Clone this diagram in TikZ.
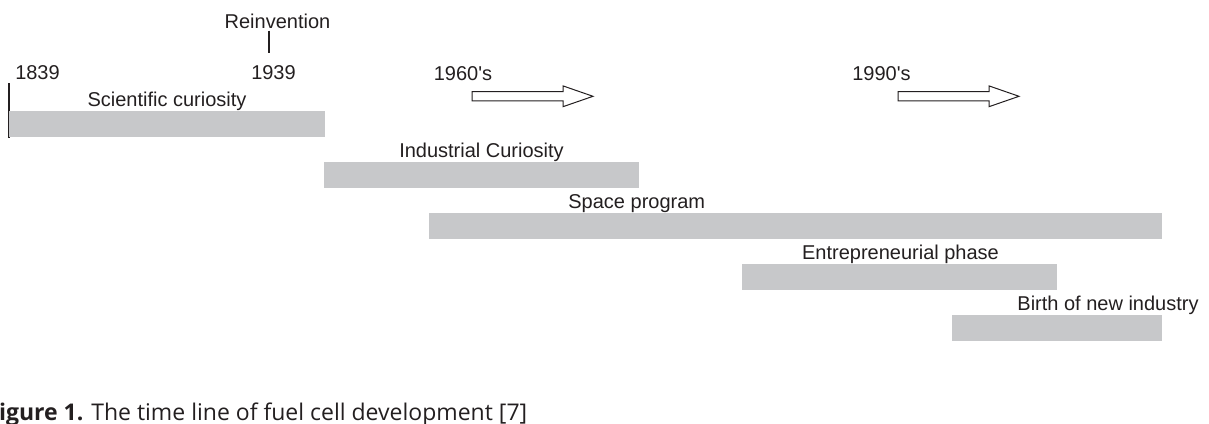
\documentclass[tikz,border=0pt]{standalone}
\usepackage{fontspec}
\setmainfont{Liberation Sans}
\newfontfamily\capfont{Open Sans}
\definecolor{barfill}{RGB}{199,200,202}
\definecolor{ink}{RGB}{35,31,32}

\begin{document}
\begin{tikzpicture}[x=0.5pt,y=-0.5pt,
    lbl/.style={anchor=base,inner sep=1pt,text=ink,font=\fontsize{10}{12}\selectfont},
    bar/.style={fill=barfill}]
    \useasboundingbox (0,0) rectangle (1209,423);

    % dates
    \node[lbl] (y1839) at (37.5,79) {1839};
    \node[lbl] (y1939) at (273.5,79) {1939};
    \node[lbl] (y1960) at (463,80) {1960\textquotesingle s};
    \node[lbl] (y1990) at (881.5,80) {1990\textquotesingle s};
    \node[lbl] (reinv) at (277.5,28) {Reinvention};
    \coordinate (tick) at (269,53);
    \draw[ink, line width=0.6pt] (reinv.south -| tick) -- (tick);

    % start marker
    \coordinate (start) at (9,83);
    \draw[ink, line width=0.7pt] (start) -- (9,138);

    % hollow arrows
    \foreach \s in {472,898}
      \draw[ink, line width=0.5pt] (\s,91.7) -- (\s+91,91.7) -- (\s+91,85.9)
        -- (\s+121,96.3) -- (\s+91,106.7) -- (\s+91,100.9) -- (\s,100.9) -- cycle;

    % phases
    \fill[bar] (9,111) rectangle (325,136.5);
    \node[lbl] (sci) at (167,106) {Scientific curiosity};

    \fill[bar] (324,162) rectangle (639,187.5);
    \node[lbl] (ind) at (481.5,157) {Industrial Curiosity};

    \fill[bar] (429,213) rectangle (1162,238.5);
    \node[lbl, anchor=base west] (space) at (566,208) {Space program};

    \fill[bar] (742,264) rectangle (1057,289.5);
    \node[lbl] (entr) at (900.5,259) {Entrepreneurial phase};

    \fill[bar] (952,315) rectangle (1162,340.5);
    \node[lbl, anchor=base west] (birth) at (1015,310) {Birth of new industry};

    \node[anchor=base west, inner sep=0, text=ink,
      font=\capfont\fontsize{11.5}{14}\selectfont] (cap) at (-14,420)
      {\textbf{Figure 1.} The time line of fuel cell development [7]};
\end{tikzpicture}
\end{document}
